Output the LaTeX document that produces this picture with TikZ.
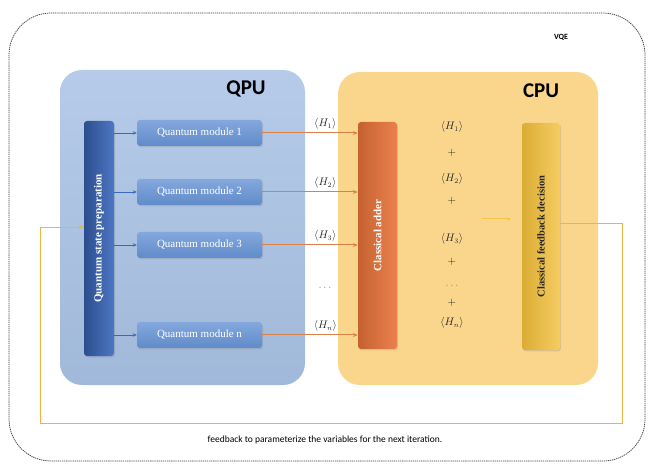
\documentclass[tikz,border=0pt]{standalone}
\usepackage{fontspec}
\setmainfont{Liberation Serif}
\newfontfamily\calib{Carlito}
\usetikzlibrary{arrows.meta,shadows}
\definecolor{qpufill}{HTML}{A9C2E5}
\definecolor{cpufill}{HTML}{FAD68D}
\definecolor{prepblue}{HTML}{3A68BD}
\definecolor{modblue}{HTML}{6592D4}
\definecolor{adderc}{HTML}{E8733A}
\definecolor{fbdecc}{HTML}{F3C03A}
\definecolor{fbline}{HTML}{F0B340}
\definecolor{hline}{HTML}{D8824A}
\tikzset{
  unitbox/.style={draw=none, rounded corners=22, inner sep=0pt},
  modbox/.style={draw=none, rounded corners=3, top color=modblue!80!white, bottom color=modblue!95!black,
    minimum width=125pt, minimum height=26pt, text=white, font=\fontsize{11}{12}\selectfont,
    drop shadow={shadow xshift=1pt, shadow yshift=-1.5pt, opacity=0.25}},
  barbox/.style={draw=none, rounded corners=3, inner sep=0pt,
    drop shadow={shadow xshift=1pt, shadow yshift=-1.5pt, opacity=0.25}},
  unitlabel/.style={font=\calib\bfseries\fontsize{21}{24}\selectfont, text=black},
  hlabel/.style={font=\fontsize{10.5}{12}\selectfont, text=black!85},
  sumlabel/.style={font=\fontsize{10.5}{12}\selectfont, text=black!85, inner sep=1pt},
  qarrow/.style={-{Stealth[length=4pt,width=3.5pt]}, draw=prepblue, line width=0.9pt},
  harrow/.style={-{Stealth[length=5pt,width=4pt]}, draw=hline, line width=1pt},
  fbpath/.style={-{Stealth[length=5pt,width=4pt]}, draw=fbline, line width=0.9pt},
}
\begin{document}
\begin{tikzpicture}[x=1pt,y=-1pt]
\useasboundingbox (0,0) rectangle (649,468);
% outer dashed frame
\draw[black!75, line width=0.75pt, dash pattern=on 1.3pt off 0.8pt, rounded corners=42] (9,13) rectangle (645,461);
\node[font=\calib\bfseries\fontsize{8}{9}\selectfont] (vqe) at (561,37) {VQE};
% unit boxes
\node[unitbox, top color=qpufill!85!white, bottom color=qpufill!95!black, minimum width=245pt, minimum height=315pt] (qpu) at (182.5,227.5) {};
\node[unitbox, fill=cpufill, minimum width=260pt, minimum height=313pt] (cpu) at (468,228.5) {};
\node[unitlabel] (qpul) at (246,89) {QPU};
\node[unitlabel] (cpul) at (541,91) {CPU};
% state preparation
\node[barbox, left color=prepblue!75!black, right color=prepblue!90!white, minimum width=30pt, minimum height=235pt] (prep) at (99,238.5) {};
\node[rotate=90, text=white, font=\bfseries\fontsize{11}{12}\selectfont] (prept) at (prep.center) {Quantum state preparation};
% modules
\node[modbox] (m1) at (199.5,133) {Quantum module 1};
\node[modbox] (m2) at (199.5,192) {Quantum module 2};
\node[modbox] (m3) at (199.5,245) {Quantum module 3};
\node[modbox] (mn) at (199.5,335) {Quantum module n};
\foreach \m in {m1,m2,m3,mn} \draw[qarrow] (prep.east |- \m) -- (\m.west);
% adder
\node[barbox, left color=adderc!85!black, right color=adderc!90!white, minimum width=39pt, minimum height=227pt] (adder) at (377.5,235.5) {};
\node[rotate=90, text=white, font=\bfseries\fontsize{11}{12}\selectfont] (addert) at (adder.center) {Classical adder};
% feedback decision
\node[barbox, left color=fbdecc!90!black, right color=fbdecc!80!white, minimum width=38pt, minimum height=227pt] (fbdec) at (541,236.5) {};
\node[rotate=90, text=black!85, font=\bfseries\fontsize{10.5}{12}\selectfont] (fbdect) at (fbdec.center) {Classical feedback decision};
% expectation arrows
\draw[harrow] (m1.east) -- node[hlabel, pos=0.66, above=0pt] (h1) {$\langle H_1\rangle$} (adder.west |- m1);
\draw[harrow] (m2.east) -- node[hlabel, pos=0.66, above=0pt] (h2) {$\langle H_2\rangle$} (adder.west |- m2);
\draw[harrow] (m3.east) -- node[hlabel, pos=0.66, above=0pt] (h3) {$\langle H_3\rangle$} (adder.west |- m3);
\draw[harrow] (mn.east) -- node[hlabel, pos=0.66, above=0pt] (hn) {$\langle H_n\rangle$} (adder.west |- mn);
\node[hlabel, text=black!50] (hdots) at (325,288) {$\cdots$};
% sum column
\node[sumlabel] (s1) at (452,127) {$\langle H_1\rangle$};
\node[sumlabel] (p1) at (452,153) {$+$};
\node[sumlabel] (s2) at (452,179) {$\langle H_2\rangle$};
\node[sumlabel] (p2) at (452,201) {$+$};
\node[sumlabel] (s3) at (452,239) {$\langle H_3\rangle$};
\node[sumlabel] (p3) at (452,262) {$+$};
\node[sumlabel, text=black!50] (sd) at (452,286) {$\cdots$};
\node[sumlabel] (p4) at (452,303) {$+$};
\node[sumlabel] (sn) at (452,323) {$\langle H_n\rangle$};
% faint arrow
\coordinate (fa1) at (482,219);
\coordinate (fa2) at (511,219);
\draw[-{Stealth[length=4pt,width=3.5pt]}, draw=fbdecc!80!cpufill, line width=1pt] (fa1) -- (fa2);
% feedback loop
\coordinate (fbo) at (560,223);
\coordinate (c1) at (622,423);
\coordinate (c2) at (40,423);
\coordinate (fbi) at (84,227);
\draw[fbpath] (fbdec.east |- fbo) -| (c1) -- (c2) |- (prep.west |- fbi);
\node[font=\calib\fontsize{9.5}{11}\selectfont] (fbtext) at (325,440) {feedback to parameterize the variables for the next iteration.};
\end{tikzpicture}
\end{document}
